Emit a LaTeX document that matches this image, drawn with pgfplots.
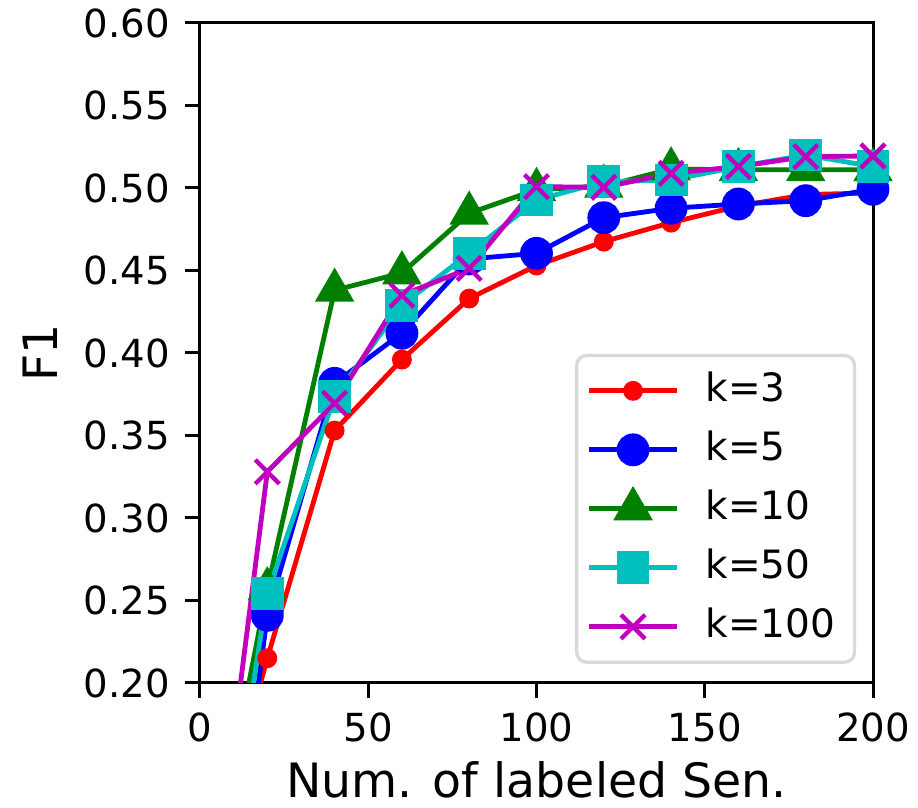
\documentclass[border=0pt]{standalone}
\usepackage{fontspec}
\setmainfont{DejaVu Sans}
\usepackage{pgfplots}
\pgfplotsset{compat=1.18}
\definecolor{mred}{rgb}{1,0,0}
\definecolor{mblue}{rgb}{0,0,1}
\definecolor{mgreen}{rgb}{0,0.5,0}
\definecolor{mcyan}{rgb}{0,0.75,0.75}
\definecolor{mmag}{rgb}{0.75,0,0.75}
\definecolor{legframe}{rgb}{0.85,0.85,0.85}
\begin{document}
\begin{tikzpicture}
\begin{axis}[
  scale only axis,
  width=201.9pt, height=198pt,
  xmin=0, xmax=200, ymin=0.2, ymax=0.6,
  xtick={0,50,100,150,200},
  ytick={0.20,0.25,0.30,0.35,0.40,0.45,0.50,0.55,0.60},
  yticklabel style={/pgf/number format/fixed,/pgf/number format/fixed zerofill,/pgf/number format/precision=2, xshift=-1pt},
  /pgf/number format/assume math mode=true,
  ticklabel style={font=\fontsize{11.6}{13}\selectfont},
  label style={font=\fontsize{14.2}{16}\selectfont},
  xlabel={Num. of labeled Sen.},
  xlabel style={yshift=1pt},
  ylabel={F1},
  ylabel style={yshift=1pt},
  xtick pos=bottom, ytick pos=left,
  tick align=outside,
  major tick length=4.5pt,
  every tick/.style={black, line width=0.9pt},
  axis line style={line width=0.9pt},
  xticklabel style={yshift=-1pt},
  legend style={
    at={(rel axis cs:0.975,0.029)}, anchor=south east,
    draw=legframe, line width=1pt, rounded corners=3pt,
    font=\fontsize{11.7}{14}\selectfont,
    inner xsep=3pt, inner ysep=2pt,
    row sep=0.5pt,
    nodes={text height=9pt, text depth=2.6pt, inner sep=2.8pt},
    /tikz/every odd column/.append style={column sep=5pt},
  },
  legend cell align=left,
  legend image code/.code={
    \draw[mark repeat=2,mark phase=2] plot coordinates {(0pt,0pt)(13.2pt,0pt)(26.4pt,0pt)};
  },
  every axis plot/.append style={line width=1.45pt},
]
\addplot[color=mred, mark=*, mark size=2.25pt, mark options={solid}] coordinates {
 (10,0.140) (20,0.215) (40,0.353) (60,0.396) (80,0.433) (100,0.453)
 (120,0.4675) (140,0.479) (160,0.489) (180,0.496) (200,0.497)};
\addlegendentry{k=3}
\addplot[color=mblue, mark=*, mark size=4.2pt] coordinates {
 (10,0.086) (20,0.241) (40,0.3816) (60,0.412) (80,0.457) (100,0.4604)
 (120,0.482) (140,0.4877) (160,0.4903) (180,0.4923) (200,0.4992)};
\addlegendentry{k=5}
\addplot[color=mgreen, mark=triangle*, mark size=5.4pt] coordinates {
 (10,0.153) (20,0.257) (40,0.438) (60,0.4485) (80,0.4847) (100,0.499)
 (120,0.501) (140,0.5115) (160,0.511) (180,0.511) (200,0.511)};
\addlegendentry{k=10}
\addplot[color=mcyan, mark=square*, mark size=4.2pt] coordinates {
 (10,0.123) (20,0.254) (40,0.3735) (60,0.429) (80,0.4604) (100,0.4927)
 (120,0.5038) (140,0.5048) (160,0.5129) (180,0.520) (200,0.513)};
\addlegendentry{k=50}
\addplot[color=mmag, mark=x, mark size=5.1pt, mark options={line width=1.3pt}] coordinates {
 (10,0.167) (20,0.328) (40,0.3695) (60,0.435) (80,0.4513) (100,0.5008)
 (120,0.5004) (140,0.5089) (160,0.513) (180,0.519) (200,0.5194)};
\addlegendentry{k=100}
\end{axis}
\pgfresetboundingbox
\path ([xshift=-60pt,yshift=-37.4pt]current axis.south west) rectangle ([xshift=13.5pt,yshift=6.9pt]current axis.north east);
\end{tikzpicture}
\end{document}
